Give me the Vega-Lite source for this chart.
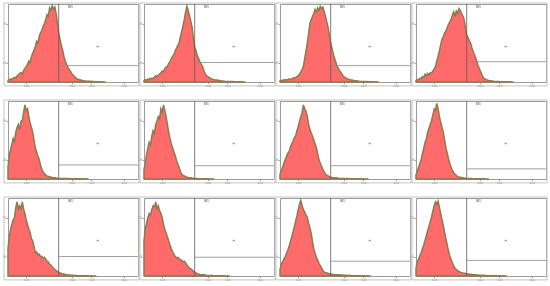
{
"$schema":"https://vega.github.io/schema/vega-lite/v6.json",
"padding":{"left":1,"top":1,"right":0,"bottom":0},
"background":"white",
"config":{"view":{"stroke":"#9a9a9a","strokeWidth":1},"axis":{"grid":false,"domain":false,"labelFontSize":3,"labelColor":"#555","tickColor":"#999","tickSize":1.5,"labelPadding":0.3,"title":null,"labelFont":"DejaVu Sans"}},
"datasets":{"d":[
{"p":1,"g":21},{"p":2,"g":25},{"p":3,"g":21},{"p":4,"g":26},{"p":5,"g":18},{"p":6,"g":17},{"p":7,"g":17},{"p":8,"g":13},{"p":9,"g":25},{"p":10,"g":24},{"p":11,"g":19},{"p":12,"g":20},
{"p":1,"x":0,"y":2},{"p":1,"x":10,"y":3},{"p":1,"x":20,"y":4},{"p":1,"x":30,"y":3},{"p":1,"x":40,"y":5},{"p":1,"x":50,"y":6},{"p":1,"x":60,"y":5},{"p":1,"x":70,"y":8},{"p":1,"x":80,"y":9},{"p":1,"x":90,"y":11},{"p":1,"x":100,"y":12},{"p":1,"x":110,"y":10},{"p":1,"x":120,"y":15},{"p":1,"x":130,"y":17},{"p":1,"x":140,"y":20},{"p":1,"x":150,"y":22},{"p":1,"x":160,"y":27},{"p":1,"x":170,"y":25},{"p":1,"x":180,"y":32},{"p":1,"x":190,"y":37},{"p":1,"x":200,"y":41},{"p":1,"x":210,"y":45},{"p":1,"x":220,"y":52},{"p":1,"x":230,"y":50},{"p":1,"x":240,"y":58},{"p":1,"x":250,"y":63},{"p":1,"x":260,"y":66},{"p":1,"x":270,"y":71},{"p":1,"x":280,"y":75},{"p":1,"x":290,"y":80},{"p":1,"x":300,"y":86},{"p":1,"x":310,"y":84},{"p":1,"x":320,"y":95},{"p":1,"x":330,"y":92},{"p":1,"x":340,"y":98},{"p":1,"x":350,"y":93},{"p":1,"x":360,"y":96},{"p":1,"x":370,"y":88},{"p":1,"x":380,"y":76},{"p":1,"x":390,"y":63},{"p":1,"x":400,"y":55},{"p":1,"x":410,"y":47},{"p":1,"x":420,"y":41},{"p":1,"x":430,"y":33},{"p":1,"x":440,"y":27},{"p":1,"x":450,"y":23},{"p":1,"x":460,"y":19},{"p":1,"x":470,"y":16},{"p":1,"x":480,"y":14},{"p":1,"x":490,"y":11},{"p":1,"x":500,"y":9},{"p":1,"x":510,"y":7},{"p":1,"x":520,"y":6},{"p":1,"x":530,"y":4},{"p":1,"x":540,"y":3.5},{"p":1,"x":550,"y":3},{"p":1,"x":560,"y":2.5},{"p":1,"x":570,"y":2},{"p":1,"x":580,"y":1.5},{"p":1,"x":600,"y":1.2},{"p":1,"x":630,"y":1},{"p":1,"x":660,"y":0.5},{"p":1,"x":700,"y":0.3},{"p":1,"x":750,"y":0},
{"p":2,"x":0,"y":2},{"p":2,"x":10,"y":3},{"p":2,"x":20,"y":2},{"p":2,"x":30,"y":4},{"p":2,"x":40,"y":3},{"p":2,"x":50,"y":5},{"p":2,"x":60,"y":4},{"p":2,"x":70,"y":5},{"p":2,"x":80,"y":6},{"p":2,"x":90,"y":8},{"p":2,"x":100,"y":7},{"p":2,"x":110,"y":9},{"p":2,"x":120,"y":10},{"p":2,"x":130,"y":12},{"p":2,"x":140,"y":14},{"p":2,"x":150,"y":13},{"p":2,"x":160,"y":17},{"p":2,"x":170,"y":19},{"p":2,"x":180,"y":20},{"p":2,"x":190,"y":24},{"p":2,"x":200,"y":26},{"p":2,"x":210,"y":30},{"p":2,"x":220,"y":33},{"p":2,"x":230,"y":35},{"p":2,"x":240,"y":40},{"p":2,"x":250,"y":43},{"p":2,"x":260,"y":47},{"p":2,"x":270,"y":50},{"p":2,"x":280,"y":58},{"p":2,"x":290,"y":65},{"p":2,"x":300,"y":72},{"p":2,"x":310,"y":80},{"p":2,"x":320,"y":90},{"p":2,"x":330,"y":97},{"p":2,"x":340,"y":92},{"p":2,"x":350,"y":85},{"p":2,"x":360,"y":78},{"p":2,"x":370,"y":70},{"p":2,"x":380,"y":56},{"p":2,"x":390,"y":45},{"p":2,"x":400,"y":40},{"p":2,"x":410,"y":34},{"p":2,"x":420,"y":30},{"p":2,"x":430,"y":26},{"p":2,"x":440,"y":23},{"p":2,"x":450,"y":20},{"p":2,"x":460,"y":15},{"p":2,"x":470,"y":11},{"p":2,"x":480,"y":8},{"p":2,"x":490,"y":7},{"p":2,"x":500,"y":6},{"p":2,"x":510,"y":5},{"p":2,"x":520,"y":4},{"p":2,"x":540,"y":3},{"p":2,"x":560,"y":2.5},{"p":2,"x":590,"y":1.5},{"p":2,"x":620,"y":1},{"p":2,"x":660,"y":0.8},{"p":2,"x":690,"y":0.5},{"p":2,"x":740,"y":0.2},{"p":2,"x":780,"y":0},
{"p":3,"x":0,"y":1.5},{"p":3,"x":10,"y":2},{"p":3,"x":20,"y":2},{"p":3,"x":30,"y":3},{"p":3,"x":40,"y":2},{"p":3,"x":50,"y":3},{"p":3,"x":60,"y":3},{"p":3,"x":70,"y":4},{"p":3,"x":80,"y":3},{"p":3,"x":90,"y":4},{"p":3,"x":100,"y":5},{"p":3,"x":110,"y":5},{"p":3,"x":120,"y":6},{"p":3,"x":130,"y":7},{"p":3,"x":140,"y":8},{"p":3,"x":150,"y":10},{"p":3,"x":160,"y":13},{"p":3,"x":170,"y":16},{"p":3,"x":180,"y":20},{"p":3,"x":190,"y":30},{"p":3,"x":200,"y":40},{"p":3,"x":210,"y":50},{"p":3,"x":220,"y":62},{"p":3,"x":230,"y":75},{"p":3,"x":240,"y":80},{"p":3,"x":250,"y":84},{"p":3,"x":260,"y":88},{"p":3,"x":270,"y":93},{"p":3,"x":280,"y":90},{"p":3,"x":290,"y":95},{"p":3,"x":300,"y":92},{"p":3,"x":310,"y":97},{"p":3,"x":320,"y":94},{"p":3,"x":330,"y":96},{"p":3,"x":340,"y":90},{"p":3,"x":350,"y":84},{"p":3,"x":360,"y":77},{"p":3,"x":370,"y":70},{"p":3,"x":380,"y":60},{"p":3,"x":390,"y":50},{"p":3,"x":400,"y":43},{"p":3,"x":410,"y":36},{"p":3,"x":420,"y":30},{"p":3,"x":430,"y":25},{"p":3,"x":440,"y":20},{"p":3,"x":450,"y":17},{"p":3,"x":460,"y":14},{"p":3,"x":470,"y":12},{"p":3,"x":480,"y":9},{"p":3,"x":490,"y":7},{"p":3,"x":500,"y":6},{"p":3,"x":510,"y":5},{"p":3,"x":520,"y":4},{"p":3,"x":540,"y":3},{"p":3,"x":570,"y":2},{"p":3,"x":610,"y":1},{"p":3,"x":650,"y":0.7},{"p":3,"x":700,"y":0.3},{"p":3,"x":760,"y":0},
{"p":4,"x":0,"y":2},{"p":4,"x":10,"y":3},{"p":4,"x":20,"y":3},{"p":4,"x":30,"y":5},{"p":4,"x":40,"y":4},{"p":4,"x":50,"y":7},{"p":4,"x":60,"y":6},{"p":4,"x":70,"y":10},{"p":4,"x":80,"y":8},{"p":4,"x":90,"y":11},{"p":4,"x":100,"y":9},{"p":4,"x":110,"y":12},{"p":4,"x":120,"y":12},{"p":4,"x":130,"y":14},{"p":4,"x":140,"y":17},{"p":4,"x":150,"y":20},{"p":4,"x":160,"y":27},{"p":4,"x":170,"y":33},{"p":4,"x":180,"y":40},{"p":4,"x":190,"y":48},{"p":4,"x":200,"y":55},{"p":4,"x":210,"y":58},{"p":4,"x":220,"y":63},{"p":4,"x":230,"y":65},{"p":4,"x":240,"y":70},{"p":4,"x":250,"y":74},{"p":4,"x":260,"y":77},{"p":4,"x":270,"y":80},{"p":4,"x":280,"y":86},{"p":4,"x":290,"y":90},{"p":4,"x":300,"y":84},{"p":4,"x":310,"y":91},{"p":4,"x":320,"y":88},{"p":4,"x":330,"y":94},{"p":4,"x":340,"y":92},{"p":4,"x":350,"y":88},{"p":4,"x":360,"y":85},{"p":4,"x":370,"y":80},{"p":4,"x":380,"y":70},{"p":4,"x":390,"y":60},{"p":4,"x":400,"y":57},{"p":4,"x":410,"y":53},{"p":4,"x":420,"y":50},{"p":4,"x":430,"y":44},{"p":4,"x":440,"y":39},{"p":4,"x":450,"y":35},{"p":4,"x":460,"y":30},{"p":4,"x":470,"y":25},{"p":4,"x":480,"y":20},{"p":4,"x":490,"y":16},{"p":4,"x":500,"y":12},{"p":4,"x":510,"y":8},{"p":4,"x":520,"y":5},{"p":4,"x":540,"y":3},{"p":4,"x":560,"y":2},{"p":4,"x":600,"y":1},{"p":4,"x":640,"y":0.5},{"p":4,"x":700,"y":0.2},{"p":4,"x":750,"y":0},
{"p":5,"x":0,"y":15},{"p":5,"x":10,"y":30},{"p":5,"x":20,"y":38},{"p":5,"x":30,"y":45},{"p":5,"x":40,"y":52},{"p":5,"x":50,"y":48},{"p":5,"x":60,"y":60},{"p":5,"x":70,"y":66},{"p":5,"x":80,"y":70},{"p":5,"x":90,"y":63},{"p":5,"x":100,"y":74},{"p":5,"x":110,"y":75},{"p":5,"x":120,"y":85},{"p":5,"x":130,"y":95},{"p":5,"x":140,"y":88},{"p":5,"x":150,"y":90},{"p":5,"x":160,"y":80},{"p":5,"x":170,"y":72},{"p":5,"x":180,"y":66},{"p":5,"x":190,"y":60},{"p":5,"x":200,"y":50},{"p":5,"x":210,"y":40},{"p":5,"x":220,"y":35},{"p":5,"x":230,"y":29},{"p":5,"x":240,"y":25},{"p":5,"x":250,"y":18},{"p":5,"x":260,"y":12},{"p":5,"x":270,"y":9},{"p":5,"x":280,"y":7},{"p":5,"x":290,"y":5},{"p":5,"x":300,"y":4},{"p":5,"x":320,"y":3},{"p":5,"x":340,"y":2},{"p":5,"x":360,"y":1.5},{"p":5,"x":380,"y":1},{"p":5,"x":420,"y":0.7},{"p":5,"x":450,"y":0.5},{"p":5,"x":500,"y":0.3},{"p":5,"x":560,"y":0.2},{"p":5,"x":620,"y":0},
{"p":6,"x":0,"y":12},{"p":6,"x":10,"y":20},{"p":6,"x":20,"y":32},{"p":6,"x":30,"y":40},{"p":6,"x":40,"y":47},{"p":6,"x":50,"y":44},{"p":6,"x":60,"y":55},{"p":6,"x":70,"y":62},{"p":6,"x":80,"y":58},{"p":6,"x":90,"y":70},{"p":6,"x":100,"y":74},{"p":6,"x":110,"y":80},{"p":6,"x":120,"y":77},{"p":6,"x":130,"y":90},{"p":6,"x":140,"y":86},{"p":6,"x":150,"y":95},{"p":6,"x":160,"y":88},{"p":6,"x":170,"y":80},{"p":6,"x":180,"y":70},{"p":6,"x":190,"y":60},{"p":6,"x":200,"y":52},{"p":6,"x":210,"y":45},{"p":6,"x":220,"y":40},{"p":6,"x":230,"y":35},{"p":6,"x":240,"y":30},{"p":6,"x":250,"y":24},{"p":6,"x":260,"y":19},{"p":6,"x":270,"y":15},{"p":6,"x":280,"y":10},{"p":6,"x":290,"y":6},{"p":6,"x":300,"y":5},{"p":6,"x":320,"y":3},{"p":6,"x":340,"y":2},{"p":6,"x":360,"y":1.5},{"p":6,"x":380,"y":1},{"p":6,"x":420,"y":0.6},{"p":6,"x":480,"y":0.3},{"p":6,"x":540,"y":0},
{"p":7,"x":0,"y":6},{"p":7,"x":10,"y":10},{"p":7,"x":20,"y":15},{"p":7,"x":30,"y":20},{"p":7,"x":40,"y":25},{"p":7,"x":50,"y":29},{"p":7,"x":60,"y":33},{"p":7,"x":70,"y":35},{"p":7,"x":80,"y":41},{"p":7,"x":90,"y":45},{"p":7,"x":100,"y":48},{"p":7,"x":110,"y":53},{"p":7,"x":120,"y":55},{"p":7,"x":130,"y":62},{"p":7,"x":140,"y":67},{"p":7,"x":150,"y":74},{"p":7,"x":160,"y":80},{"p":7,"x":170,"y":85},{"p":7,"x":180,"y":95},{"p":7,"x":190,"y":90},{"p":7,"x":200,"y":87},{"p":7,"x":210,"y":80},{"p":7,"x":220,"y":70},{"p":7,"x":230,"y":64},{"p":7,"x":240,"y":59},{"p":7,"x":250,"y":55},{"p":7,"x":260,"y":50},{"p":7,"x":270,"y":45},{"p":7,"x":280,"y":40},{"p":7,"x":290,"y":32},{"p":7,"x":300,"y":25},{"p":7,"x":310,"y":20},{"p":7,"x":320,"y":16},{"p":7,"x":330,"y":12},{"p":7,"x":340,"y":9},{"p":7,"x":350,"y":6},{"p":7,"x":360,"y":5},{"p":7,"x":380,"y":3},{"p":7,"x":400,"y":2},{"p":7,"x":430,"y":1.5},{"p":7,"x":450,"y":1},{"p":7,"x":500,"y":0.7},{"p":7,"x":560,"y":0.4},{"p":7,"x":620,"y":0.2},{"p":7,"x":680,"y":0},
{"p":8,"x":0,"y":5},{"p":8,"x":10,"y":10},{"p":8,"x":20,"y":15},{"p":8,"x":30,"y":20},{"p":8,"x":40,"y":25},{"p":8,"x":50,"y":33},{"p":8,"x":60,"y":40},{"p":8,"x":70,"y":47},{"p":8,"x":80,"y":52},{"p":8,"x":90,"y":60},{"p":8,"x":100,"y":65},{"p":8,"x":110,"y":70},{"p":8,"x":120,"y":75},{"p":8,"x":130,"y":82},{"p":8,"x":140,"y":90},{"p":8,"x":150,"y":88},{"p":8,"x":160,"y":97},{"p":8,"x":170,"y":90},{"p":8,"x":180,"y":80},{"p":8,"x":190,"y":73},{"p":8,"x":200,"y":66},{"p":8,"x":210,"y":60},{"p":8,"x":220,"y":50},{"p":8,"x":230,"y":40},{"p":8,"x":240,"y":33},{"p":8,"x":250,"y":26},{"p":8,"x":260,"y":20},{"p":8,"x":270,"y":15},{"p":8,"x":280,"y":11},{"p":8,"x":290,"y":8},{"p":8,"x":300,"y":6},{"p":8,"x":320,"y":3},{"p":8,"x":350,"y":2},{"p":8,"x":380,"y":1},{"p":8,"x":430,"y":0.5},{"p":8,"x":500,"y":0.2},{"p":8,"x":560,"y":0},
{"p":9,"x":0,"y":35},{"p":9,"x":10,"y":50},{"p":9,"x":20,"y":60},{"p":9,"x":30,"y":66},{"p":9,"x":40,"y":72},{"p":9,"x":50,"y":75},{"p":9,"x":60,"y":88},{"p":9,"x":70,"y":95},{"p":9,"x":80,"y":86},{"p":9,"x":90,"y":90},{"p":9,"x":100,"y":85},{"p":9,"x":110,"y":95},{"p":9,"x":120,"y":86},{"p":9,"x":130,"y":80},{"p":9,"x":140,"y":72},{"p":9,"x":150,"y":66},{"p":9,"x":160,"y":60},{"p":9,"x":170,"y":56},{"p":9,"x":180,"y":48},{"p":9,"x":190,"y":45},{"p":9,"x":200,"y":38},{"p":9,"x":210,"y":30},{"p":9,"x":220,"y":31},{"p":9,"x":230,"y":27},{"p":9,"x":240,"y":28},{"p":9,"x":250,"y":25},{"p":9,"x":260,"y":25},{"p":9,"x":270,"y":23},{"p":9,"x":280,"y":24},{"p":9,"x":290,"y":22},{"p":9,"x":300,"y":19},{"p":9,"x":310,"y":18},{"p":9,"x":320,"y":15},{"p":9,"x":330,"y":14},{"p":9,"x":340,"y":12},{"p":9,"x":350,"y":10},{"p":9,"x":360,"y":8},{"p":9,"x":380,"y":6},{"p":9,"x":400,"y":4},{"p":9,"x":420,"y":3},{"p":9,"x":450,"y":1.5},{"p":9,"x":490,"y":1},{"p":9,"x":530,"y":0.5},{"p":9,"x":600,"y":0.3},{"p":9,"x":680,"y":0},
{"p":10,"x":0,"y":45},{"p":10,"x":10,"y":60},{"p":10,"x":20,"y":68},{"p":10,"x":30,"y":75},{"p":10,"x":40,"y":80},{"p":10,"x":50,"y":78},{"p":10,"x":60,"y":85},{"p":10,"x":70,"y":90},{"p":10,"x":80,"y":88},{"p":10,"x":90,"y":95},{"p":10,"x":100,"y":86},{"p":10,"x":110,"y":90},{"p":10,"x":120,"y":84},{"p":10,"x":130,"y":80},{"p":10,"x":140,"y":75},{"p":10,"x":150,"y":66},{"p":10,"x":160,"y":60},{"p":10,"x":170,"y":55},{"p":10,"x":180,"y":50},{"p":10,"x":190,"y":45},{"p":10,"x":200,"y":40},{"p":10,"x":210,"y":35},{"p":10,"x":220,"y":31},{"p":10,"x":230,"y":28},{"p":10,"x":240,"y":25},{"p":10,"x":250,"y":23},{"p":10,"x":260,"y":24},{"p":10,"x":270,"y":22},{"p":10,"x":280,"y":21},{"p":10,"x":290,"y":20},{"p":10,"x":300,"y":18},{"p":10,"x":310,"y":19},{"p":10,"x":320,"y":17},{"p":10,"x":330,"y":14},{"p":10,"x":340,"y":12},{"p":10,"x":350,"y":10},{"p":10,"x":360,"y":9},{"p":10,"x":370,"y":8},{"p":10,"x":380,"y":6},{"p":10,"x":390,"y":5},{"p":10,"x":410,"y":3},{"p":10,"x":430,"y":2},{"p":10,"x":460,"y":1.5},{"p":10,"x":480,"y":1},{"p":10,"x":530,"y":0.5},{"p":10,"x":600,"y":0.2},{"p":10,"x":660,"y":0},
{"p":11,"x":0,"y":8},{"p":11,"x":10,"y":15},{"p":11,"x":20,"y":18},{"p":11,"x":30,"y":22},{"p":11,"x":40,"y":25},{"p":11,"x":50,"y":29},{"p":11,"x":60,"y":33},{"p":11,"x":70,"y":38},{"p":11,"x":80,"y":44},{"p":11,"x":90,"y":50},{"p":11,"x":100,"y":56},{"p":11,"x":110,"y":63},{"p":11,"x":120,"y":70},{"p":11,"x":130,"y":77},{"p":11,"x":140,"y":85},{"p":11,"x":150,"y":92},{"p":11,"x":160,"y":97},{"p":11,"x":170,"y":90},{"p":11,"x":180,"y":85},{"p":11,"x":190,"y":82},{"p":11,"x":200,"y":78},{"p":11,"x":210,"y":75},{"p":11,"x":220,"y":68},{"p":11,"x":230,"y":62},{"p":11,"x":240,"y":55},{"p":11,"x":250,"y":44},{"p":11,"x":260,"y":35},{"p":11,"x":270,"y":29},{"p":11,"x":280,"y":24},{"p":11,"x":290,"y":20},{"p":11,"x":300,"y":16},{"p":11,"x":310,"y":13},{"p":11,"x":320,"y":10},{"p":11,"x":330,"y":7},{"p":11,"x":340,"y":5},{"p":11,"x":360,"y":4},{"p":11,"x":380,"y":3},{"p":11,"x":410,"y":2},{"p":11,"x":450,"y":1.5},{"p":11,"x":500,"y":1},{"p":11,"x":550,"y":0.5},{"p":11,"x":620,"y":0.3},{"p":11,"x":700,"y":0},
{"p":12,"x":0,"y":10},{"p":12,"x":10,"y":18},{"p":12,"x":20,"y":22},{"p":12,"x":30,"y":26},{"p":12,"x":40,"y":30},{"p":12,"x":50,"y":35},{"p":12,"x":60,"y":40},{"p":12,"x":70,"y":46},{"p":12,"x":80,"y":52},{"p":12,"x":90,"y":58},{"p":12,"x":100,"y":64},{"p":12,"x":110,"y":70},{"p":12,"x":120,"y":76},{"p":12,"x":130,"y":83},{"p":12,"x":140,"y":90},{"p":12,"x":150,"y":95},{"p":12,"x":160,"y":92},{"p":12,"x":170,"y":96},{"p":12,"x":180,"y":88},{"p":12,"x":190,"y":80},{"p":12,"x":200,"y":72},{"p":12,"x":210,"y":65},{"p":12,"x":220,"y":56},{"p":12,"x":230,"y":48},{"p":12,"x":240,"y":40},{"p":12,"x":250,"y":32},{"p":12,"x":260,"y":26},{"p":12,"x":270,"y":21},{"p":12,"x":280,"y":17},{"p":12,"x":290,"y":13},{"p":12,"x":300,"y":10},{"p":12,"x":320,"y":7},{"p":12,"x":340,"y":5},{"p":12,"x":360,"y":4},{"p":12,"x":390,"y":3},{"p":12,"x":430,"y":2},{"p":12,"x":480,"y":1.2},{"p":12,"x":540,"y":0.6},{"p":12,"x":620,"y":0.3},{"p":12,"x":700,"y":0}
]},
"columns":4,
"spacing":{"row":19,"column":6},
"bounds":"flush",
"concat":[
{"data":{"name":"d"},"transform":[{"filter":"datum.p==1"}],"width":130,"height":78,"layer":[
{"transform":[{"filter":"isValid(datum.g)"}],"mark":{"type":"rect","fill":null,"stroke":"#c4c4c4","strokeWidth":1},"encoding":{"x":{"datum":-31,"type":"quantitative","scale":{"domain":[0,1000]},"axis":{"values":[140,490,640,890],"labelExpr":"'10' + (datum.index*3+1)"}},"x2":{"datum":1008},"y":{"datum":-5,"type":"quantitative","scale":{"domain":[0,100]},"axis":{"values":[25,50,75]}},"y2":{"datum":101.3}}},
{"transform":[{"filter":"isValid(datum.x)"}],"mark":{"type":"area","fill":"#ff6a6a","stroke":"#8d7a4e","strokeWidth":1.5},"encoding":{"x":{"field":"x","type":"quantitative"},"y":{"field":"y","type":"quantitative"}}},
{"transform":[{"filter":"isValid(datum.g)"}],"mark":{"type":"rule","color":"#5a5a5a","strokeWidth":0.8},"encoding":{"x":{"datum":390,"type":"quantitative"}}},
{"transform":[{"filter":"isValid(datum.g)"}],"mark":{"type":"rule","color":"#8a8a8a","strokeWidth":0.8},"encoding":{"x":{"datum":390,"type":"quantitative"},"x2":{"datum":1000},"y":{"field":"g","type":"quantitative"}}},
{"transform":[{"filter":"isValid(datum.g)"}],"mark":{"type":"text","text":"+","fontSize":5,"color":"#666"},"encoding":{"x":{"datum":690,"type":"quantitative"},"y":{"datum":46,"type":"quantitative"}}},
{"transform":[{"filter":"isValid(datum.g)"}],"mark":{"type":"text","text":"M1","fontSize":3.5,"color":"#444","baseline":"top"},"encoding":{"x":{"datum":480,"type":"quantitative"},"y":{"datum":99,"type":"quantitative"}}}]},
{"data":{"name":"d"},"transform":[{"filter":"datum.p==2"}],"width":130,"height":78,"layer":[
{"transform":[{"filter":"isValid(datum.g)"}],"mark":{"type":"rect","fill":null,"stroke":"#c4c4c4","strokeWidth":1},"encoding":{"x":{"datum":-31,"type":"quantitative","scale":{"domain":[0,1000]},"axis":{"values":[140,490,640,890],"labelExpr":"'10' + (datum.index*3+1)"}},"x2":{"datum":1008},"y":{"datum":-5,"type":"quantitative","scale":{"domain":[0,100]},"axis":{"values":[25,50,75]}},"y2":{"datum":101.3}}},
{"transform":[{"filter":"isValid(datum.x)"}],"mark":{"type":"area","fill":"#ff6a6a","stroke":"#8d7a4e","strokeWidth":1.5},"encoding":{"x":{"field":"x","type":"quantitative"},"y":{"field":"y","type":"quantitative"}}},
{"transform":[{"filter":"isValid(datum.g)"}],"mark":{"type":"rule","color":"#5a5a5a","strokeWidth":0.8},"encoding":{"x":{"datum":390,"type":"quantitative"}}},
{"transform":[{"filter":"isValid(datum.g)"}],"mark":{"type":"rule","color":"#8a8a8a","strokeWidth":0.8},"encoding":{"x":{"datum":390,"type":"quantitative"},"x2":{"datum":1000},"y":{"field":"g","type":"quantitative"}}},
{"transform":[{"filter":"isValid(datum.g)"}],"mark":{"type":"text","text":"+","fontSize":5,"color":"#666"},"encoding":{"x":{"datum":690,"type":"quantitative"},"y":{"datum":46,"type":"quantitative"}}},
{"transform":[{"filter":"isValid(datum.g)"}],"mark":{"type":"text","text":"M1","fontSize":3.5,"color":"#444","baseline":"top"},"encoding":{"x":{"datum":480,"type":"quantitative"},"y":{"datum":99,"type":"quantitative"}}}]},
{"data":{"name":"d"},"transform":[{"filter":"datum.p==3"}],"width":130,"height":78,"layer":[
{"transform":[{"filter":"isValid(datum.g)"}],"mark":{"type":"rect","fill":null,"stroke":"#c4c4c4","strokeWidth":1},"encoding":{"x":{"datum":-31,"type":"quantitative","scale":{"domain":[0,1000]},"axis":{"values":[140,490,640,890],"labelExpr":"'10' + (datum.index*3+1)"}},"x2":{"datum":1008},"y":{"datum":-5,"type":"quantitative","scale":{"domain":[0,100]},"axis":{"values":[25,50,75]}},"y2":{"datum":101.3}}},
{"transform":[{"filter":"isValid(datum.x)"}],"mark":{"type":"area","fill":"#ff6a6a","stroke":"#8d7a4e","strokeWidth":1.5},"encoding":{"x":{"field":"x","type":"quantitative"},"y":{"field":"y","type":"quantitative"}}},
{"transform":[{"filter":"isValid(datum.g)"}],"mark":{"type":"rule","color":"#5a5a5a","strokeWidth":0.8},"encoding":{"x":{"datum":390,"type":"quantitative"}}},
{"transform":[{"filter":"isValid(datum.g)"}],"mark":{"type":"rule","color":"#8a8a8a","strokeWidth":0.8},"encoding":{"x":{"datum":390,"type":"quantitative"},"x2":{"datum":1000},"y":{"field":"g","type":"quantitative"}}},
{"transform":[{"filter":"isValid(datum.g)"}],"mark":{"type":"text","text":"+","fontSize":5,"color":"#666"},"encoding":{"x":{"datum":690,"type":"quantitative"},"y":{"datum":46,"type":"quantitative"}}},
{"transform":[{"filter":"isValid(datum.g)"}],"mark":{"type":"text","text":"M1","fontSize":3.5,"color":"#444","baseline":"top"},"encoding":{"x":{"datum":480,"type":"quantitative"},"y":{"datum":99,"type":"quantitative"}}}]},
{"data":{"name":"d"},"transform":[{"filter":"datum.p==4"}],"width":130,"height":78,"layer":[
{"transform":[{"filter":"isValid(datum.g)"}],"mark":{"type":"rect","fill":null,"stroke":"#c4c4c4","strokeWidth":1},"encoding":{"x":{"datum":-31,"type":"quantitative","scale":{"domain":[0,1000]},"axis":{"values":[140,490,640,890],"labelExpr":"'10' + (datum.index*3+1)"}},"x2":{"datum":1008},"y":{"datum":-5,"type":"quantitative","scale":{"domain":[0,100]},"axis":{"values":[25,50,75]}},"y2":{"datum":101.3}}},
{"transform":[{"filter":"isValid(datum.x)"}],"mark":{"type":"area","fill":"#ff6a6a","stroke":"#8d7a4e","strokeWidth":1.5},"encoding":{"x":{"field":"x","type":"quantitative"},"y":{"field":"y","type":"quantitative"}}},
{"transform":[{"filter":"isValid(datum.g)"}],"mark":{"type":"rule","color":"#5a5a5a","strokeWidth":0.8},"encoding":{"x":{"datum":390,"type":"quantitative"}}},
{"transform":[{"filter":"isValid(datum.g)"}],"mark":{"type":"rule","color":"#8a8a8a","strokeWidth":0.8},"encoding":{"x":{"datum":390,"type":"quantitative"},"x2":{"datum":1000},"y":{"field":"g","type":"quantitative"}}},
{"transform":[{"filter":"isValid(datum.g)"}],"mark":{"type":"text","text":"+","fontSize":5,"color":"#666"},"encoding":{"x":{"datum":690,"type":"quantitative"},"y":{"datum":46,"type":"quantitative"}}},
{"transform":[{"filter":"isValid(datum.g)"}],"mark":{"type":"text","text":"M1","fontSize":3.5,"color":"#444","baseline":"top"},"encoding":{"x":{"datum":480,"type":"quantitative"},"y":{"datum":99,"type":"quantitative"}}}]},
{"data":{"name":"d"},"transform":[{"filter":"datum.p==5"}],"width":130,"height":78,"layer":[
{"transform":[{"filter":"isValid(datum.g)"}],"mark":{"type":"rect","fill":null,"stroke":"#c4c4c4","strokeWidth":1},"encoding":{"x":{"datum":-31,"type":"quantitative","scale":{"domain":[0,1000]},"axis":{"values":[140,490,640,890],"labelExpr":"'10' + (datum.index*3+1)"}},"x2":{"datum":1008},"y":{"datum":-5,"type":"quantitative","scale":{"domain":[0,100]},"axis":{"values":[25,50,75]}},"y2":{"datum":101.3}}},
{"transform":[{"filter":"isValid(datum.x)"}],"mark":{"type":"area","fill":"#ff6a6a","stroke":"#8d7a4e","strokeWidth":1.5},"encoding":{"x":{"field":"x","type":"quantitative"},"y":{"field":"y","type":"quantitative"}}},
{"transform":[{"filter":"isValid(datum.g)"}],"mark":{"type":"rule","color":"#5a5a5a","strokeWidth":0.8},"encoding":{"x":{"datum":390,"type":"quantitative"}}},
{"transform":[{"filter":"isValid(datum.g)"}],"mark":{"type":"rule","color":"#8a8a8a","strokeWidth":0.8},"encoding":{"x":{"datum":390,"type":"quantitative"},"x2":{"datum":1000},"y":{"field":"g","type":"quantitative"}}},
{"transform":[{"filter":"isValid(datum.g)"}],"mark":{"type":"text","text":"+","fontSize":5,"color":"#666"},"encoding":{"x":{"datum":690,"type":"quantitative"},"y":{"datum":46,"type":"quantitative"}}},
{"transform":[{"filter":"isValid(datum.g)"}],"mark":{"type":"text","text":"M1","fontSize":3.5,"color":"#444","baseline":"top"},"encoding":{"x":{"datum":480,"type":"quantitative"},"y":{"datum":99,"type":"quantitative"}}}]},
{"data":{"name":"d"},"transform":[{"filter":"datum.p==6"}],"width":130,"height":78,"layer":[
{"transform":[{"filter":"isValid(datum.g)"}],"mark":{"type":"rect","fill":null,"stroke":"#c4c4c4","strokeWidth":1},"encoding":{"x":{"datum":-31,"type":"quantitative","scale":{"domain":[0,1000]},"axis":{"values":[140,490,640,890],"labelExpr":"'10' + (datum.index*3+1)"}},"x2":{"datum":1008},"y":{"datum":-5,"type":"quantitative","scale":{"domain":[0,100]},"axis":{"values":[25,50,75]}},"y2":{"datum":101.3}}},
{"transform":[{"filter":"isValid(datum.x)"}],"mark":{"type":"area","fill":"#ff6a6a","stroke":"#8d7a4e","strokeWidth":1.5},"encoding":{"x":{"field":"x","type":"quantitative"},"y":{"field":"y","type":"quantitative"}}},
{"transform":[{"filter":"isValid(datum.g)"}],"mark":{"type":"rule","color":"#5a5a5a","strokeWidth":0.8},"encoding":{"x":{"datum":390,"type":"quantitative"}}},
{"transform":[{"filter":"isValid(datum.g)"}],"mark":{"type":"rule","color":"#8a8a8a","strokeWidth":0.8},"encoding":{"x":{"datum":390,"type":"quantitative"},"x2":{"datum":1000},"y":{"field":"g","type":"quantitative"}}},
{"transform":[{"filter":"isValid(datum.g)"}],"mark":{"type":"text","text":"+","fontSize":5,"color":"#666"},"encoding":{"x":{"datum":690,"type":"quantitative"},"y":{"datum":46,"type":"quantitative"}}},
{"transform":[{"filter":"isValid(datum.g)"}],"mark":{"type":"text","text":"M1","fontSize":3.5,"color":"#444","baseline":"top"},"encoding":{"x":{"datum":480,"type":"quantitative"},"y":{"datum":99,"type":"quantitative"}}}]},
{"data":{"name":"d"},"transform":[{"filter":"datum.p==7"}],"width":130,"height":78,"layer":[
{"transform":[{"filter":"isValid(datum.g)"}],"mark":{"type":"rect","fill":null,"stroke":"#c4c4c4","strokeWidth":1},"encoding":{"x":{"datum":-31,"type":"quantitative","scale":{"domain":[0,1000]},"axis":{"values":[140,490,640,890],"labelExpr":"'10' + (datum.index*3+1)"}},"x2":{"datum":1008},"y":{"datum":-5,"type":"quantitative","scale":{"domain":[0,100]},"axis":{"values":[25,50,75]}},"y2":{"datum":101.3}}},
{"transform":[{"filter":"isValid(datum.x)"}],"mark":{"type":"area","fill":"#ff6a6a","stroke":"#8d7a4e","strokeWidth":1.5},"encoding":{"x":{"field":"x","type":"quantitative"},"y":{"field":"y","type":"quantitative"}}},
{"transform":[{"filter":"isValid(datum.g)"}],"mark":{"type":"rule","color":"#5a5a5a","strokeWidth":0.8},"encoding":{"x":{"datum":390,"type":"quantitative"}}},
{"transform":[{"filter":"isValid(datum.g)"}],"mark":{"type":"rule","color":"#8a8a8a","strokeWidth":0.8},"encoding":{"x":{"datum":390,"type":"quantitative"},"x2":{"datum":1000},"y":{"field":"g","type":"quantitative"}}},
{"transform":[{"filter":"isValid(datum.g)"}],"mark":{"type":"text","text":"+","fontSize":5,"color":"#666"},"encoding":{"x":{"datum":690,"type":"quantitative"},"y":{"datum":46,"type":"quantitative"}}},
{"transform":[{"filter":"isValid(datum.g)"}],"mark":{"type":"text","text":"M1","fontSize":3.5,"color":"#444","baseline":"top"},"encoding":{"x":{"datum":480,"type":"quantitative"},"y":{"datum":99,"type":"quantitative"}}}]},
{"data":{"name":"d"},"transform":[{"filter":"datum.p==8"}],"width":130,"height":78,"layer":[
{"transform":[{"filter":"isValid(datum.g)"}],"mark":{"type":"rect","fill":null,"stroke":"#c4c4c4","strokeWidth":1},"encoding":{"x":{"datum":-31,"type":"quantitative","scale":{"domain":[0,1000]},"axis":{"values":[140,490,640,890],"labelExpr":"'10' + (datum.index*3+1)"}},"x2":{"datum":1008},"y":{"datum":-5,"type":"quantitative","scale":{"domain":[0,100]},"axis":{"values":[25,50,75]}},"y2":{"datum":101.3}}},
{"transform":[{"filter":"isValid(datum.x)"}],"mark":{"type":"area","fill":"#ff6a6a","stroke":"#8d7a4e","strokeWidth":1.5},"encoding":{"x":{"field":"x","type":"quantitative"},"y":{"field":"y","type":"quantitative"}}},
{"transform":[{"filter":"isValid(datum.g)"}],"mark":{"type":"rule","color":"#5a5a5a","strokeWidth":0.8},"encoding":{"x":{"datum":390,"type":"quantitative"}}},
{"transform":[{"filter":"isValid(datum.g)"}],"mark":{"type":"rule","color":"#8a8a8a","strokeWidth":0.8},"encoding":{"x":{"datum":390,"type":"quantitative"},"x2":{"datum":1000},"y":{"field":"g","type":"quantitative"}}},
{"transform":[{"filter":"isValid(datum.g)"}],"mark":{"type":"text","text":"+","fontSize":5,"color":"#666"},"encoding":{"x":{"datum":690,"type":"quantitative"},"y":{"datum":46,"type":"quantitative"}}},
{"transform":[{"filter":"isValid(datum.g)"}],"mark":{"type":"text","text":"M1","fontSize":3.5,"color":"#444","baseline":"top"},"encoding":{"x":{"datum":480,"type":"quantitative"},"y":{"datum":99,"type":"quantitative"}}}]},
{"data":{"name":"d"},"transform":[{"filter":"datum.p==9"}],"width":130,"height":78,"layer":[
{"transform":[{"filter":"isValid(datum.g)"}],"mark":{"type":"rect","fill":null,"stroke":"#c4c4c4","strokeWidth":1},"encoding":{"x":{"datum":-31,"type":"quantitative","scale":{"domain":[0,1000]},"axis":{"values":[140,490,640,890],"labelExpr":"'10' + (datum.index*3+1)"}},"x2":{"datum":1008},"y":{"datum":-5,"type":"quantitative","scale":{"domain":[0,100]},"axis":{"values":[25,50,75]}},"y2":{"datum":101.3}}},
{"transform":[{"filter":"isValid(datum.x)"}],"mark":{"type":"area","fill":"#ff6a6a","stroke":"#8d7a4e","strokeWidth":1.5},"encoding":{"x":{"field":"x","type":"quantitative"},"y":{"field":"y","type":"quantitative"}}},
{"transform":[{"filter":"isValid(datum.g)"}],"mark":{"type":"rule","color":"#5a5a5a","strokeWidth":0.8},"encoding":{"x":{"datum":390,"type":"quantitative"}}},
{"transform":[{"filter":"isValid(datum.g)"}],"mark":{"type":"rule","color":"#8a8a8a","strokeWidth":0.8},"encoding":{"x":{"datum":390,"type":"quantitative"},"x2":{"datum":1000},"y":{"field":"g","type":"quantitative"}}},
{"transform":[{"filter":"isValid(datum.g)"}],"mark":{"type":"text","text":"+","fontSize":5,"color":"#666"},"encoding":{"x":{"datum":690,"type":"quantitative"},"y":{"datum":46,"type":"quantitative"}}},
{"transform":[{"filter":"isValid(datum.g)"}],"mark":{"type":"text","text":"M1","fontSize":3.5,"color":"#444","baseline":"top"},"encoding":{"x":{"datum":480,"type":"quantitative"},"y":{"datum":99,"type":"quantitative"}}}]},
{"data":{"name":"d"},"transform":[{"filter":"datum.p==10"}],"width":130,"height":78,"layer":[
{"transform":[{"filter":"isValid(datum.g)"}],"mark":{"type":"rect","fill":null,"stroke":"#c4c4c4","strokeWidth":1},"encoding":{"x":{"datum":-31,"type":"quantitative","scale":{"domain":[0,1000]},"axis":{"values":[140,490,640,890],"labelExpr":"'10' + (datum.index*3+1)"}},"x2":{"datum":1008},"y":{"datum":-5,"type":"quantitative","scale":{"domain":[0,100]},"axis":{"values":[25,50,75]}},"y2":{"datum":101.3}}},
{"transform":[{"filter":"isValid(datum.x)"}],"mark":{"type":"area","fill":"#ff6a6a","stroke":"#8d7a4e","strokeWidth":1.5},"encoding":{"x":{"field":"x","type":"quantitative"},"y":{"field":"y","type":"quantitative"}}},
{"transform":[{"filter":"isValid(datum.g)"}],"mark":{"type":"rule","color":"#5a5a5a","strokeWidth":0.8},"encoding":{"x":{"datum":390,"type":"quantitative"}}},
{"transform":[{"filter":"isValid(datum.g)"}],"mark":{"type":"rule","color":"#8a8a8a","strokeWidth":0.8},"encoding":{"x":{"datum":390,"type":"quantitative"},"x2":{"datum":1000},"y":{"field":"g","type":"quantitative"}}},
{"transform":[{"filter":"isValid(datum.g)"}],"mark":{"type":"text","text":"+","fontSize":5,"color":"#666"},"encoding":{"x":{"datum":690,"type":"quantitative"},"y":{"datum":46,"type":"quantitative"}}},
{"transform":[{"filter":"isValid(datum.g)"}],"mark":{"type":"text","text":"M1","fontSize":3.5,"color":"#444","baseline":"top"},"encoding":{"x":{"datum":480,"type":"quantitative"},"y":{"datum":99,"type":"quantitative"}}}]},
{"data":{"name":"d"},"transform":[{"filter":"datum.p==11"}],"width":130,"height":78,"layer":[
{"transform":[{"filter":"isValid(datum.g)"}],"mark":{"type":"rect","fill":null,"stroke":"#c4c4c4","strokeWidth":1},"encoding":{"x":{"datum":-31,"type":"quantitative","scale":{"domain":[0,1000]},"axis":{"values":[140,490,640,890],"labelExpr":"'10' + (datum.index*3+1)"}},"x2":{"datum":1008},"y":{"datum":-5,"type":"quantitative","scale":{"domain":[0,100]},"axis":{"values":[25,50,75]}},"y2":{"datum":101.3}}},
{"transform":[{"filter":"isValid(datum.x)"}],"mark":{"type":"area","fill":"#ff6a6a","stroke":"#8d7a4e","strokeWidth":1.5},"encoding":{"x":{"field":"x","type":"quantitative"},"y":{"field":"y","type":"quantitative"}}},
{"transform":[{"filter":"isValid(datum.g)"}],"mark":{"type":"rule","color":"#5a5a5a","strokeWidth":0.8},"encoding":{"x":{"datum":390,"type":"quantitative"}}},
{"transform":[{"filter":"isValid(datum.g)"}],"mark":{"type":"rule","color":"#8a8a8a","strokeWidth":0.8},"encoding":{"x":{"datum":390,"type":"quantitative"},"x2":{"datum":1000},"y":{"field":"g","type":"quantitative"}}},
{"transform":[{"filter":"isValid(datum.g)"}],"mark":{"type":"text","text":"+","fontSize":5,"color":"#666"},"encoding":{"x":{"datum":690,"type":"quantitative"},"y":{"datum":46,"type":"quantitative"}}},
{"transform":[{"filter":"isValid(datum.g)"}],"mark":{"type":"text","text":"M1","fontSize":3.5,"color":"#444","baseline":"top"},"encoding":{"x":{"datum":480,"type":"quantitative"},"y":{"datum":99,"type":"quantitative"}}}]},
{"data":{"name":"d"},"transform":[{"filter":"datum.p==12"}],"width":130,"height":78,"layer":[
{"transform":[{"filter":"isValid(datum.g)"}],"mark":{"type":"rect","fill":null,"stroke":"#c4c4c4","strokeWidth":1},"encoding":{"x":{"datum":-31,"type":"quantitative","scale":{"domain":[0,1000]},"axis":{"values":[140,490,640,890],"labelExpr":"'10' + (datum.index*3+1)"}},"x2":{"datum":1008},"y":{"datum":-5,"type":"quantitative","scale":{"domain":[0,100]},"axis":{"values":[25,50,75]}},"y2":{"datum":101.3}}},
{"transform":[{"filter":"isValid(datum.x)"}],"mark":{"type":"area","fill":"#ff6a6a","stroke":"#8d7a4e","strokeWidth":1.5},"encoding":{"x":{"field":"x","type":"quantitative"},"y":{"field":"y","type":"quantitative"}}},
{"transform":[{"filter":"isValid(datum.g)"}],"mark":{"type":"rule","color":"#5a5a5a","strokeWidth":0.8},"encoding":{"x":{"datum":390,"type":"quantitative"}}},
{"transform":[{"filter":"isValid(datum.g)"}],"mark":{"type":"rule","color":"#8a8a8a","strokeWidth":0.8},"encoding":{"x":{"datum":390,"type":"quantitative"},"x2":{"datum":1000},"y":{"field":"g","type":"quantitative"}}},
{"transform":[{"filter":"isValid(datum.g)"}],"mark":{"type":"text","text":"+","fontSize":5,"color":"#666"},"encoding":{"x":{"datum":690,"type":"quantitative"},"y":{"datum":46,"type":"quantitative"}}},
{"transform":[{"filter":"isValid(datum.g)"}],"mark":{"type":"text","text":"M1","fontSize":3.5,"color":"#444","baseline":"top"},"encoding":{"x":{"datum":480,"type":"quantitative"},"y":{"datum":99,"type":"quantitative"}}}]}
]
}
